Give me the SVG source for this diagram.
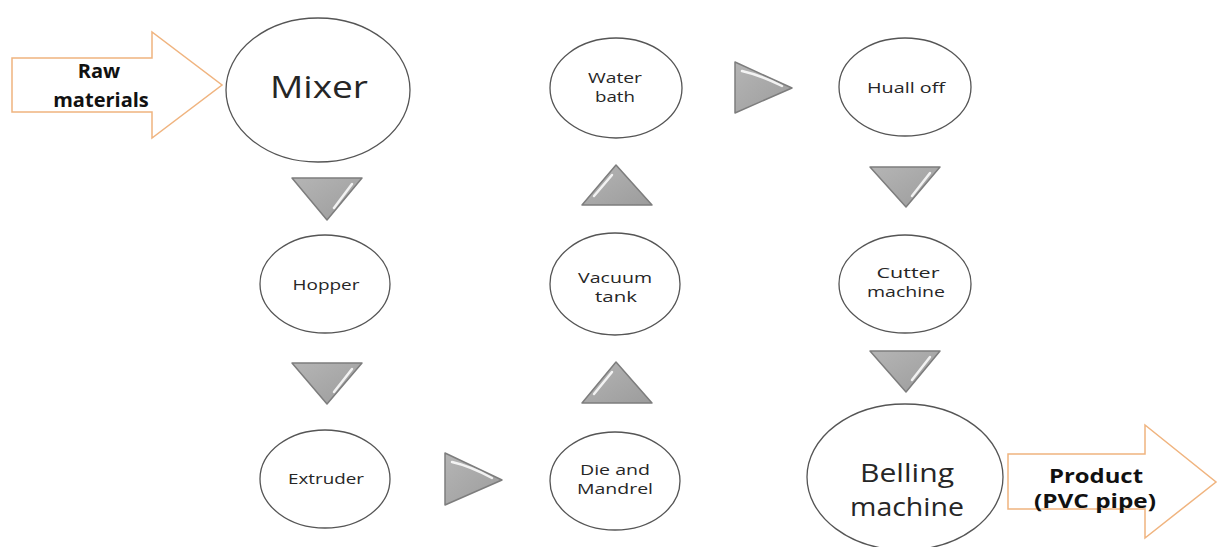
<svg xmlns="http://www.w3.org/2000/svg" width="1218" height="547" viewBox="0 0 1218 547">
<style>
.node ellipse{fill:#fff;stroke:#555;stroke-width:1.3}
.lbl{font-family:"Open Sans","Liberation Sans",sans-serif;fill:#262626;text-anchor:middle}
.sm{font-size:15px}
.big{font-size:31px}
.bold{font-weight:bold;font-size:20px;fill:#111}
.tri{fill:url(#g);stroke:#7d7d7d;stroke-width:1.5;stroke-linejoin:round}
.hl{fill:none;stroke:#fff;stroke-width:2.5;stroke-linecap:round;opacity:0.85}
.arr{fill:#fff;stroke:#f0b47f;stroke-width:1.5}
</style>
<defs>
<linearGradient id="g" x1="0" y1="0" x2="1" y2="1">
<stop offset="0" stop-color="#b5b5b5"/>
<stop offset="1" stop-color="#9c9c9c"/>
</linearGradient>
</defs>
<rect width="1218" height="547" fill="#fff"/>

<g id="raw-materials">
<polygon class="arr" points="12,58 152,58 152,32 222,85 152,138 152,112 12,112"/>
<text class="lbl bold" x="99" y="78" font-size="22">Raw</text>
<text class="lbl bold" x="101" y="107" font-size="22">materials</text>
</g>
<g id="product">
<polygon class="arr" points="1008,454 1145,454 1145,425 1216,482 1145,538 1145,509 1008,509"/>
<text class="lbl bold" x="1096" y="483" textLength="94" lengthAdjust="spacingAndGlyphs">Product</text>
<text class="lbl bold" x="1095" y="508" textLength="122" lengthAdjust="spacingAndGlyphs">(PVC pipe)</text>
</g>

<g id="mixer" class="node"><ellipse cx="318" cy="90" rx="92" ry="72"/><text class="lbl big" x="319" y="98" textLength="98" lengthAdjust="spacingAndGlyphs">Mixer</text></g>
<g id="hopper" class="node"><ellipse cx="325" cy="284" rx="65" ry="49"/><text class="lbl sm" x="326" y="290" textLength="67" lengthAdjust="spacingAndGlyphs">Hopper</text></g>
<g id="extruder" class="node"><ellipse cx="325" cy="479" rx="65" ry="49"/><text class="lbl sm" x="326" y="484" textLength="76" lengthAdjust="spacingAndGlyphs">Extruder</text></g>
<g id="die-mandrel" class="node"><ellipse cx="615" cy="481" rx="65" ry="49"/><text class="lbl sm" x="615" y="475" textLength="70" lengthAdjust="spacingAndGlyphs">Die and</text><text class="lbl sm" x="615" y="494" textLength="76" lengthAdjust="spacingAndGlyphs">Mandrel</text></g>
<g id="vacuum-tank" class="node"><ellipse cx="615" cy="284" rx="65" ry="51"/><text class="lbl sm" x="615" y="283" textLength="74" lengthAdjust="spacingAndGlyphs">Vacuum</text><text class="lbl sm" x="616" y="302" textLength="42" lengthAdjust="spacingAndGlyphs">tank</text></g>
<g id="water-bath" class="node"><ellipse cx="616" cy="88" rx="66" ry="50"/><text class="lbl sm" x="615" y="83" textLength="54" lengthAdjust="spacingAndGlyphs">Water</text><text class="lbl sm" x="615" y="102" textLength="40" lengthAdjust="spacingAndGlyphs">bath</text></g>
<g id="huall-off" class="node"><ellipse cx="905" cy="87" rx="66" ry="49"/><text class="lbl sm" x="906" y="93" textLength="78" lengthAdjust="spacingAndGlyphs">Huall off</text></g>
<g id="cutter-machine" class="node"><ellipse cx="905" cy="284" rx="66" ry="49"/><text class="lbl sm" x="908" y="278" textLength="63" lengthAdjust="spacingAndGlyphs">Cutter</text><text class="lbl sm" x="906" y="297" textLength="78" lengthAdjust="spacingAndGlyphs">machine</text></g>
<g id="belling-machine" class="node"><ellipse cx="905" cy="477" rx="98" ry="73"/><text class="lbl" x="907" y="482" font-size="26" font-family="Liberation Sans, sans-serif" textLength="94" lengthAdjust="spacingAndGlyphs">Belling</text><text class="lbl" x="907" y="516" font-size="26" font-family="Liberation Sans, sans-serif" textLength="114" lengthAdjust="spacingAndGlyphs">machine</text></g>

<g id="connectors">
<polygon class="tri" points="292,178 362,178 327,220"/><path class="hl" d="M352,184 L334,208"/>
<polygon class="tri" points="292,363 362,363 327,404"/><path class="hl" d="M352,369 L334,392"/>
<polygon class="tri" points="445,453 502,480 445,505"/><path class="hl" d="M452,462 Q470,466 492,478"/>
<polygon class="tri" points="582,403 652,403 616,362"/><path class="hl" d="M612,372 L594,394"/>
<polygon class="tri" points="582,205 652,205 616,165"/><path class="hl" d="M612,175 L594,196"/>
<polygon class="tri" points="735,62 792,88 735,113"/><path class="hl" d="M742,71 Q760,75 782,86"/>
<polygon class="tri" points="870,167 940,167 906,207"/><path class="hl" d="M930,173 L912,196"/>
<polygon class="tri" points="870,351 940,351 906,392"/><path class="hl" d="M930,357 L912,380"/>
</g>
</svg>
